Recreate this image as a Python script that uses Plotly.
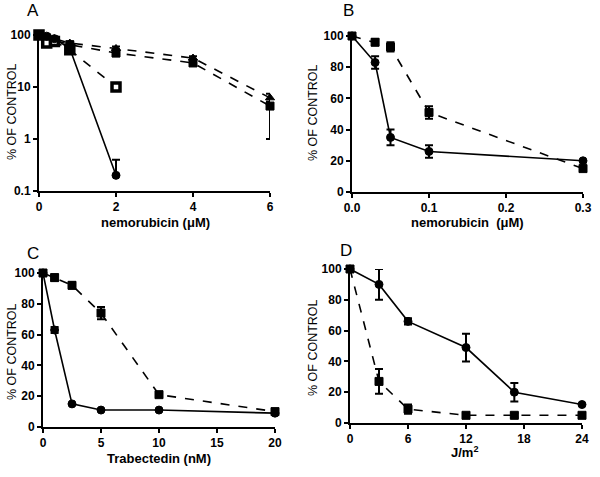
import plotly.graph_objects as go

# Panel A (log scale)
a_x5 = [0, 0.2, 0.4, 0.8, 2]
a_circ = [100, 95, 85, 55, 0.2]
a_circ_up = [0, 0, 0, 0, 0.2]
a_sq = [100, 70, 75, 52, 10]
a_x7 = [0, 0.2, 0.4, 0.8, 2, 4, 6]
a_tri = [100, 90, 85, 70, 55, 36, 6.2]
a_tri_up = [0, 0, 0, 0, 5, 3, 1.2]
a_tri_dn = [0, 0, 0, 0, 5, 3, 1.0]
a_fsq = [100, 88, 80, 65, 45, 29, 4.3]
a_fsq_up = [0, 0, 0, 10, 8, 3, 1.5]
a_fsq_dn = [0, 0, 0, 10, 6, 3, 3.3]

# Panel B
b_x = [0, 0.03, 0.05, 0.1, 0.3]
b_circ = [100, 83, 35, 26, 20]
b_circ_err = [0, 4, 5, 4, 0]
b_sq = [100, 96, 93, 51, 15]
b_sq_err = [0, 2, 3, 4, 0]

# Panel C
c_x = [0, 1, 2.5, 5, 10, 20]
c_circ = [100, 63, 15, 11, 11, 9]
c_circ_err = [0, 2, 0, 0, 0, 0]
c_sq = [100, 97, 92, 74, 21, 10]
c_sq_err = [0, 2, 2, 4, 0, 0]

# Panel D
d_x = [0, 3, 6, 12, 17, 24]
d_circ = [100, 90, 66, 49, 20, 12]
d_circ_err = [0, 10, 2, 9, 6, 0]
d_sq = [100, 27, 9, 5, 5, 5]
d_sq_err = [0, 8, 3, 1.5, 1.5, 1.5]

x_titles = ["nemorubicin (μM)", "nemorubicin  (μM)", "Trabectedin (nM)", "J/m<sup>2</sup>"]
y_title = "% OF CONTROL"
panel_letters = ["A", "B", "C", "D"]

W, H = 600, 477
def dom_x(a, b): return [a / W, b / W]
def dom_y(top, bot): return [1 - bot / H, 1 - top / H]
def px(x): return x / W
def py(y): return 1 - y / H

fig = go.Figure()

def add(x, y, xa, ya, symbol, dash, err=None, err_up=None, err_dn=None, size=8, color="black", line_color="black", lw=1):
    ey = None
    if err is not None:
        ey = dict(type="data", array=err, visible=True, color="black", thickness=2, width=4)
    elif err_up is not None:
        ey = dict(type="data", symmetric=False, array=err_up,
                  arrayminus=err_dn if err_dn is not None else [0] * len(err_up),
                  visible=True, color="black", thickness=2, width=4)
    fig.add_trace(go.Scatter(
        x=x, y=y, xaxis=xa, yaxis=ya, mode="lines+markers",
        line=dict(color="black", width=1.6, dash=dash),
        marker=dict(symbol=symbol, size=size, color=color, line=dict(color=line_color, width=lw)),
        error_y=ey, cliponaxis=False, showlegend=False))

# A
add(a_x7, a_tri, "x", "y", "triangle-up", "dash", err_up=a_tri_up, err_dn=a_tri_dn)
add(a_x7, a_fsq, "x", "y", "square", "dash", err_up=a_fsq_up, err_dn=a_fsq_dn)
add(a_x5, a_sq, "x", "y", "square", "dash", size=8, color="white", line_color="black", lw=3.5)
add(a_x5, a_circ, "x", "y", "circle", "solid", err_up=a_circ_up, err_dn=[0]*5)
# B
add(b_x, b_sq, "x2", "y2", "square", "dash", err=b_sq_err)
add(b_x, b_circ, "x2", "y2", "circle", "solid", err=b_circ_err)
# C
add(c_x, c_sq, "x3", "y3", "square", "dash", err=c_sq_err)
add(c_x, c_circ, "x3", "y3", "circle", "solid", err=c_circ_err)
# D
add(d_x, d_sq, "x4", "y4", "square", "dash", err=d_sq_err)
add(d_x, d_circ, "x4", "y4", "circle", "solid", err=d_circ_err)

FAM = "Liberation Sans, Arial"
tickfont = dict(family=FAM, size=12, color="black", weight="bold")
titlefont_b = dict(family=FAM, size=13, color="black", weight="bold")
titlefont_y = dict(family=FAM, size=12.5, color="black")

def axis(domain, rng, **kw):
    d = dict(domain=domain, range=rng, showline=True, linecolor="black", linewidth=2,
             ticks="outside", ticklen=4, tickwidth=2, tickcolor="black", automargin=False,
             ticklabelstandoff=0,
             showgrid=False, zeroline=False, tickfont=tickfont, fixedrange=True)
    d.update(kw)
    return d

fig.update_layout(
    width=W, height=H, margin=dict(l=0, r=0, t=0, b=0),
    paper_bgcolor="white", plot_bgcolor="white",
    xaxis=axis(dom_x(39, 270), [0, 6], anchor="y", tickvals=[0, 2, 4, 6]),
    yaxis=axis(dom_y(35, 191), [-1, 2], type="log", anchor="x",
               tickvals=[0.1, 1, 10, 100], ticktext=["0.1", "1", "10", "100"]),
    xaxis2=axis(dom_x(352, 583), [0, 0.3], anchor="y2", tickvals=[0, 0.1, 0.2, 0.3], tickformat=".1f"),
    yaxis2=axis(dom_y(36, 192), [0, 100], anchor="x2", tickvals=[0, 20, 40, 60, 80, 100]),
    xaxis3=axis(dom_x(43, 275), [0, 20], anchor="y3", tickvals=[0, 5, 10, 15, 20]),
    yaxis3=axis(dom_y(273, 427), [0, 100], anchor="x3", tickvals=[0, 20, 40, 60, 80, 100]),
    xaxis4=axis(dom_x(350, 582), [0, 24], anchor="y4", tickvals=[0, 6, 12, 18, 24]),
    yaxis4=axis(dom_y(269, 423), [0, 100], anchor="x4", tickvals=[0, 20, 40, 60, 80, 100]),
)

# axis titles (placed as annotations for exact positions)
for txt, cx, cy in zip(x_titles, [155, 467, 159, 464], [222, 222, 458, 452]):
    fig.add_annotation(text=txt, x=px(cx), y=py(cy), xref="paper", yref="paper",
                       showarrow=False, font=titlefont_b, xanchor="center", yanchor="middle")
for cx, cy in zip([12, 313, 12, 313], [112, 112, 352, 347]):
    fig.add_annotation(text=y_title, x=px(cx), y=py(cy), xref="paper", yref="paper", textangle=-90,
                       showarrow=False, font=titlefont_y, xanchor="center", yanchor="middle")

letter_font = dict(family=FAM, size=17, color="black")
for txt, lx, ly in zip(panel_letters, [33, 348, 33, 346], [11, 10, 253, 250]):
    fig.add_annotation(text=txt, x=px(lx), y=py(ly), xref="paper", yref="paper",
                       showarrow=False, font=letter_font, xanchor="center", yanchor="middle")

fig.write_html("out.html", config={"displayModeBar": False},
               post_script="document.body.style.margin='0';")
